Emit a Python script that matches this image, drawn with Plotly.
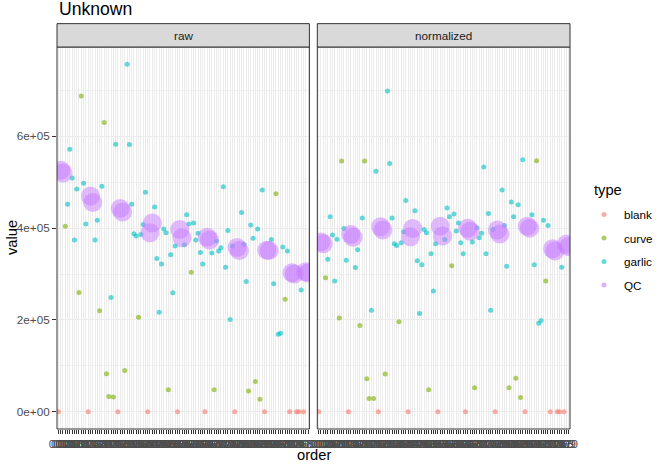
import plotly.graph_objects as go

order_labels = [f"{i:03d}" for i in range(1, 111)]

sample_type = (
    "b Q Q c g g g g g c c g g b Q Q g g c g c c c g c g b Q Q c g g g g g c g g g b "
    "Q Q g g g g g g c g g g b Q Q g g g c g g g g g b Q Q g c g g g g g g g g b Q Q "
    "g g g c g g c g c g b Q Q g g c g g g c g b Q Q b b g b Q Q"
).split()
type_names = {"b": "blank", "c": "curve", "g": "garlic", "Q": "QC"}
sample_type = [type_names[t] for t in sample_type]

raw_values = [
    0, 526, 520, 404, 452, 572, 509, 374, 485, 260, 688, 498, 409, 0, 470, 456, 374, 417, 220, 491,
    630, 83, 33, 249, 32, 583, 0, 443, 435, 90, 757, 582, 452, 388, 383, 206, 386, 408, 478, 0,
    390, 411, 446, 334, 217, 322, 398, 390, 48, 342, 259, 361, 0, 397, 379, 364, 429, 409, 304, 411,
    374, 389, 347, 322, 0, 380, 374, 346, 48, 372, 350, 357, 490, 315, 395, 201, 361, 0, 358, 351,
    434, 365, 284, 45, 407, 378, 66, 398, 27, 483, 0, 352, 351, 375, 279, 475, 169, 171, 359, 245,
    350, 0, 303, 300, 0, 0, 265, 0, 305, 302,
]
norm_values = [
    0, 370, 366, 292, 332, 425, 385, 285, 376, 204, 546, 399, 330, 0, 386, 380, 314, 353, 188, 422,
    546, 72, 29, 221, 29, 524, 0, 403, 396, 82, 699, 541, 422, 366, 362, 196, 368, 392, 460, 0,
    381, 399, 438, 329, 214, 320, 397, 390, 48, 344, 263, 366, 0, 404, 383, 375, 444, 425, 318, 431,
    394, 411, 368, 344, 0, 400, 393, 370, 52, 401, 379, 389, 533, 344, 432, 221, 397, 0, 396, 387,
    483, 406, 317, 52, 457, 425, 73, 451, 31, 549, 0, 404, 400, 429, 320, 547, 193, 199, 417, 285,
    406, 0, 355, 350, 0, 0, 315, 0, 365, 360,
]
raw_values = [v * 1000 for v in raw_values]
norm_values = [v * 1000 for v in norm_values]

type_levels = ["blank", "curve", "garlic", "QC"]
type_colors = {"blank": "#F8766D", "curve": "#7CAE00", "garlic": "#00BFC4", "QC": "#C77CFF"}
panels = [("raw", raw_values, "x", "y"), ("normalized", norm_values, "x2", "y2")]

y_ticks = [0, 200000, 400000, 600000]
y_tick_text = ["0e+00", "2e+05", "4e+05", "6e+05"]

FONT = "Liberation Sans, Arial, sans-serif"
fig = go.Figure()

draw_order = ["blank", "curve", "garlic", "QC"]
for name, vals, xa, ya in panels:
    for t in draw_order:
        xs = [order_labels[i] for i in range(len(vals)) if sample_type[i] == t]
        ys = [vals[i] for i in range(len(vals)) if sample_type[i] == t]
        big = t == "QC"
        fig.add_trace(go.Scatter(
            x=xs, y=ys, mode="markers", xaxis=xa, yaxis=ya,
            marker=dict(color=type_colors[t], size=19 if big else 5,
                        opacity=0.5 if big else 0.6, line=dict(width=0)),
            showlegend=False, hoverinfo="skip", cliponaxis=True,
        ))

# legend entries
for t in type_levels:
    fig.add_trace(go.Scatter(
        x=[None], y=[None], mode="markers", name=t, legendgroup=t,
        marker=dict(color=type_colors[t], size=5, opacity=0.6),
        showlegend=True,
    ))

plot_l, plot_r = 57, 570
W, H = 670, 469
top, bottom = 46.7, 429.5
pw = plot_r - plot_l
ph = bottom - top
d1 = [0, (309.4 - plot_l) / pw]
d2 = [(317.3 - plot_l) / pw, 1]

xcommon = dict(
    type="category", categoryorder="array", categoryarray=order_labels,
    range=[-0.6, len(order_labels) - 0.4],
    tickmode="array", tickvals=order_labels, ticktext=order_labels,
    tickangle=0, ticks="outside", ticklen=4, tickcolor="#333333", tickwidth=1,
    tickfont=dict(family=FONT, size=11.5, color="#4D4D4D"),
    showgrid=True, gridcolor="#EBEBEB", gridwidth=1,
    zeroline=False, showline=False, fixedrange=True,
)
ycommon = dict(
    range=[-37600, 794600],
    tickmode="array", tickvals=y_ticks, ticktext=y_tick_text,
    showgrid=True, gridcolor="#EBEBEB", gridwidth=1,
    minor=dict(tickvals=[100000, 300000, 500000, 700000], showgrid=True,
               gridcolor="#F0F0F0", gridwidth=0.6),
    zeroline=False, showline=False, fixedrange=True,
)

fig.update_layout(
    width=W, height=H,
    margin=dict(l=plot_l, r=W - plot_r, t=top, b=H - bottom, pad=0),
    paper_bgcolor="white", plot_bgcolor="white",
    font=dict(family=FONT, color="#000000"),
    xaxis=dict(domain=d1, anchor="y", **xcommon),
    xaxis2=dict(domain=d2, anchor="y2", **xcommon),
    yaxis=dict(domain=[0, 1], anchor="x", ticks="outside", ticklen=4,
               tickcolor="#333333", tickwidth=1,
               tickfont=dict(family=FONT, size=11.7, color="#4D4D4D"), **ycommon),
    yaxis2=dict(domain=[0, 1], anchor="x2", matches="y", showticklabels=False,
                ticks="", **ycommon),
    showlegend=True,
    legend=dict(
        x=(584 - plot_l) / pw, xanchor="left", y=(bottom - 200) / ph, yanchor="top",
        font=dict(family=FONT, size=11.7, color="#000000"),
        bgcolor="rgba(0,0,0,0)", traceorder="grouped", tracegroupgap=4.5,
        itemsizing="trace",
    ),
)

strip_h = 23.4 / ph
for name, vals, xa, ya in panels:
    xd = "x domain" if xa == "x" else "x2 domain"
    yd = "y domain" if ya == "y" else "y2 domain"
    fig.add_shape(type="rect", xref=xd, yref=yd, x0=0, x1=1, y0=0, y1=1,
                  line=dict(color="#333333", width=1), fillcolor="rgba(0,0,0,0)", layer="above")
    fig.add_shape(type="rect", xref=xd, yref=yd, x0=0, x1=1, y0=1, y1=1 + strip_h,
                  line=dict(color="#333333", width=1), fillcolor="#D9D9D9", layer="above")
    fig.add_annotation(text=name, xref=xd, yref=yd, x=0.5, y=1 + strip_h / 2,
                       showarrow=False, font=dict(family=FONT, size=11.7, color="#1A1A1A"),
                       xanchor="center", yanchor="middle")

fig.add_annotation(text="type", xref="paper", yref="paper", x=(592 - plot_l) / pw,
                   y=(bottom - 190) / ph, showarrow=False,
                   font=dict(family=FONT, size=14.7, color="#000000"),
                   xanchor="left", yanchor="middle")
fig.add_annotation(text="order", xref="paper", yref="paper", x=0.5,
                   y=-(456 - bottom) / ph, showarrow=False,
                   font=dict(family=FONT, size=14.7, color="#000000"),
                   xanchor="center", yanchor="middle")
fig.add_annotation(text="value", xref="paper", yref="paper", x=-(plot_l - 12) / pw,
                   y=((bottom + top) / 2 - top) / ph, showarrow=False, textangle=-90,
                   font=dict(family=FONT, size=14.7, color="#000000"),
                   xanchor="center", yanchor="middle")
fig.add_annotation(text="Unknown", xref="paper", yref="paper", x=0,
                   y=1 + (top - 9) / ph, showarrow=False,
                   font=dict(family=FONT, size=17.6, color="#000000"),
                   xanchor="left", yanchor="middle")

fig.write_html("out.html")
